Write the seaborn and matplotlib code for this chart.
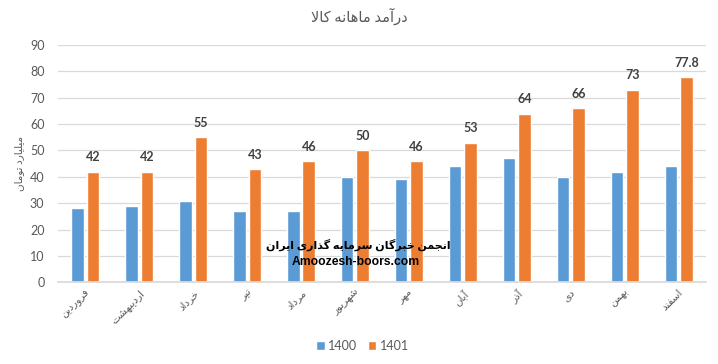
import matplotlib
matplotlib.use("Agg")
import matplotlib.pyplot as plt
import seaborn as sns
import pandas as pd

# ---------------- data ----------------
months = ["فروردین", "اردیبهشت", "خرداد", "تیر", "مرداد", "شهریور",
          "مهر", "آبان", "آذر", "دی", "بهمن", "اسفند"]
series_names = ["1400", "1401"]
values_1400 = [28, 29, 31, 27, 27, 40, 39, 44, 47, 40, 42, 44]
values_1401 = [42, 42, 55, 43, 46, 50, 46, 53, 64, 66, 73, 77.8]
y_ticks = [0, 10, 20, 30, 40, 50, 60, 70, 80, 90]
title_text = "درآمد ماهانه کالا"
ylabel_text = "میلیارد تومان"
watermark_1 = "انجمن خبرگان سرمایه گذاری ایران"
watermark_2 = "Amoozesh-boors.com"

# ------------- minimal Persian shaping (matplotlib has no bidi/shaping) -------------
FORMS = {
    "ا": (0xFE8D, 0xFE8E, None, None),
    "آ": (0xFE81, 0xFE82, None, None),
    "ب": (0xFE8F, 0xFE90, 0xFE91, 0xFE92),
    "ت": (0xFE95, 0xFE96, 0xFE97, 0xFE98),
    "ج": (0xFE9D, 0xFE9E, 0xFE9F, 0xFEA0),
    "خ": (0xFEA5, 0xFEA6, 0xFEA7, 0xFEA8),
    "د": (0xFEA9, 0xFEAA, None, None),
    "ذ": (0xFEAB, 0xFEAC, None, None),
    "ر": (0xFEAD, 0xFEAE, None, None),
    "ز": (0xFEAF, 0xFEB0, None, None),
    "س": (0xFEB1, 0xFEB2, 0xFEB3, 0xFEB4),
    "ش": (0xFEB5, 0xFEB6, 0xFEB7, 0xFEB8),
    "ف": (0xFED1, 0xFED2, 0xFED3, 0xFED4),
    "ل": (0xFEDD, 0xFEDE, 0xFEDF, 0xFEE0),
    "م": (0xFEE1, 0xFEE2, 0xFEE3, 0xFEE4),
    "ن": (0xFEE5, 0xFEE6, 0xFEE7, 0xFEE8),
    "ه": (0xFEE9, 0xFEEA, 0xFEEB, 0xFEEC),
    "و": (0xFEED, 0xFEEE, None, None),
    "ی": (0xFBFC, 0xFBFD, 0xFBFE, 0xFBFF),
    "ک": (0xFB8E, 0xFB8F, 0xFB90, 0xFB91),
    "گ": (0xFB92, 0xFB93, 0xFB94, 0xFB95),
}
LAMALEF = {"ا": (0xFEFB, 0xFEFC), "آ": (0xFEF5, 0xFEF6)}


def dual(c):
    return c in FORMS and FORMS[c][2] is not None


def shape(text):
    chars = list(text)
    out = []
    i = 0
    n = len(chars)
    while i < n:
        c = chars[i]
        if c not in FORMS:
            out.append(c)
            i += 1
            continue
        prev_joins = i > 0 and dual(chars[i - 1])
        if c == "ل" and i + 1 < n and chars[i + 1] in LAMALEF:
            iso, fin = LAMALEF[chars[i + 1]]
            out.append(chr(fin if prev_joins else iso))
            i += 2
            continue
        next_joins = dual(c) and i + 1 < n and chars[i + 1] in FORMS
        iso, fin, ini, med = FORMS[c]
        if prev_joins and next_joins:
            g = med
        elif prev_joins:
            g = fin
        elif next_joins:
            g = ini
        else:
            g = iso
        out.append(chr(g))
        i += 1
    return "".join(out)[::-1]


# ---------------- figure ----------------
sns.set_theme(style="white")
plt.rcParams["font.family"] = ["Lato", "DejaVu Sans"]

df = pd.DataFrame({
    "month": [shape(m) for m in months] * 2,
    "series": [series_names[0]] * len(months) + [series_names[1]] * len(months),
    "value": values_1400 + values_1401,
})

fig = plt.figure(figsize=(7.18, 3.64), dpi=100)
ax = fig.add_axes([0.0812, 0.2245, 0.9014, 0.6519])

palette = {"1400": "#5B9BD5", "1401": "#ED7D31"}
sns.barplot(data=df, x="month", y="value", hue="series", palette=palette,
            width=0.575, gap=0.19, saturation=1, ax=ax, legend=True)

ax.set_ylim(0, 90)
ax.set_yticks(y_ticks)
ax.yaxis.grid(True, color="#D9D9D9", linewidth=0.9)
ax.set_axisbelow(True)
for s in ["top", "right", "left"]:
    ax.spines[s].set_visible(False)
ax.spines["bottom"].set_color("#D9D9D9")
ax.tick_params(axis="y", length=0, pad=10, labelsize=9, labelcolor="#595959")
ax.tick_params(axis="x", length=0, pad=4, labelsize=7.5, labelcolor="#595959")
for lbl in ax.get_xticklabels():
    lbl.set_rotation(45)
    lbl.set_ha("right")
    lbl.set_va("top")
    lbl.set_rotation_mode("anchor")
ax.set_xlabel("")
ax.set_ylabel(shape(ylabel_text), fontsize=7.5, color="#595959", labelpad=4)

# value labels on the 1401 bars
ax.bar_label(ax.containers[1], labels=[f"{v:g}" for v in values_1401],
             padding=6, fontsize=9, fontweight="bold", color="#404040")

# legend
handles, labels = ax.get_legend_handles_labels()
ax.get_legend().remove()
fig.legend(handles, labels, loc="center", bbox_to_anchor=(0.505, 0.049),
           ncol=2, frameon=False, fontsize=9, labelcolor="#595959",
           handlelength=0.7, handleheight=0.7, handletextpad=0.3,
           columnspacing=0.8)

fig.text(0.5, 0.955, shape(title_text), ha="center", va="center",
         fontsize=10.5, color="#595959")
fig.text(0.499, 0.327, shape(watermark_1), ha="center", va="center",
         fontsize=8, fontweight="bold", color="black")
fig.text(0.495, 0.28, watermark_2, ha="center", va="center",
         fontsize=8.7, fontweight="bold", color="black",
         family=["Liberation Sans", "DejaVu Sans"])

fig.savefig("out.png", dpi=100)
